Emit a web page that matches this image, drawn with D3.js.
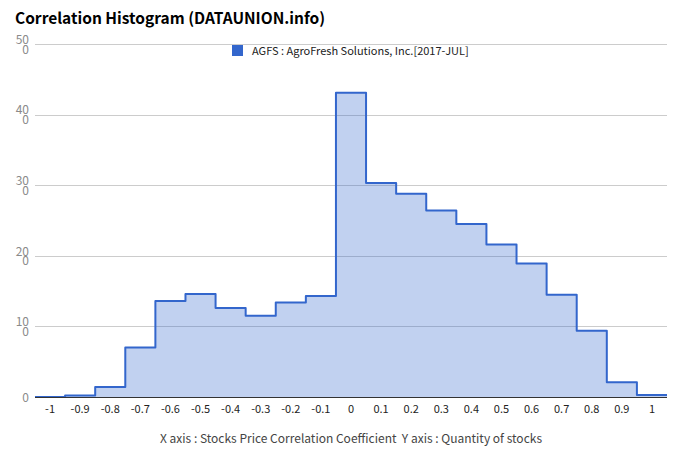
<!DOCTYPE html>
<html>
<head>
<meta charset="utf-8">
<script src="https://cdn.jsdelivr.net/npm/d3@7"></script>
<style>
  html, body { margin: 0; padding: 0; background: #fff; }
  svg { display: block; font-family: "Noto Sans CJK KR", "Noto Sans", sans-serif; }
  text { white-space: pre; }
</style>
</head>
<body>
<svg id="chart" width="680" height="462"></svg>
<script>
const binCenters = [-1, -0.9, -0.8, -0.7, -0.6, -0.5, -0.4, -0.3, -0.2, -0.1, 0, 0.1, 0.2, 0.3, 0.4, 0.5, 0.6, 0.7, 0.8, 0.9, 1];
const counts =     [0, 2, 14, 70, 136, 146, 126, 115, 134, 143, 431, 303, 288, 264, 245, 216, 189, 145, 94, 21, 3];
const xTickLabels = ["-1","-0.9","-0.8","-0.7","-0.6","-0.5","-0.4","-0.3","-0.2","-0.1","0","0.1","0.2","0.3","0.4","0.5","0.6","0.7","0.8","0.9","1"];
const yTicks = [0, 100, 200, 300, 400, 500];
const titleText = "Correlation Histogram (DATAUNION.info)";
const legendText = "AGFS : AgroFresh Solutions, Inc.[2017-JUL]";
const axisTitle = "X axis : Stocks Price Correlation Coefficient  Y axis : Quantity of stocks";

(function () {
const svg = d3.select("#chart");
const pLeft = 35, pRight = 667, pTop = 44, pBottom = 397;
const binW = 0.1;

const x = d3.scaleLinear().domain([-1.05, 1.05]).range([pLeft, pRight]);
const y = d3.scaleLinear().domain([0, 500]).range([pBottom, pTop]);

// gridlines
svg.append("g").selectAll("line").data(yTicks.filter(d => d > 0)).join("line")
  .attr("x1", pLeft).attr("x2", pRight)
  .attr("y1", d => Math.round(y(d)) + 0.5).attr("y2", d => Math.round(y(d)) + 0.5)
  .attr("stroke", "#cccccc").attr("stroke-width", 1);

// y labels (wrapped like original)
const yl = svg.append("g").selectAll("text").data(yTicks).join("text")
  .attr("x", 29).attr("text-anchor", "end")
  .attr("font-size", 12).attr("fill", "#8a8a8a");
yl.each(function(d) {
  const t = d3.select(this);
  const s = String(d);
  const yy = y(d);
  if (s.length > 2) {
    t.append("tspan").attr("x", 29).attr("y", yy - 0.3).text(s.slice(0, 2));
    t.append("tspan").attr("x", 29).attr("y", yy + 9.5).text(s.slice(2));
  } else {
    t.append("tspan").attr("x", 29).attr("y", yy + 4.5).text(s);
  }
});

// step data
const pts = binCenters.map((c, i) => ({ x: c - binW / 2, v: counts[i] }));
pts.push({ x: binCenters[binCenters.length - 1] + binW / 2, v: counts[counts.length - 1] });

const area = d3.area().curve(d3.curveStepAfter)
  .x(d => x(d.x)).y0(y(0)).y1(d => y(d.v));
const line = d3.line().curve(d3.curveStepAfter)
  .x(d => x(d.x)).y(d => y(d.v));

svg.append("path").datum(pts).attr("d", area)
  .attr("fill", "#3366cc").attr("fill-opacity", 0.3);
svg.append("path").datum(pts).attr("d", line)
  .attr("fill", "none").attr("stroke", "#3366cc").attr("stroke-width", 2)
  .attr("stroke-linejoin", "round");

// baseline
svg.append("line").attr("x1", pLeft).attr("x2", pRight)
  .attr("y1", pBottom + 0.5).attr("y2", pBottom + 0.5)
  .attr("stroke", "#333").attr("stroke-width", 1);

// x tick labels
svg.append("g").selectAll("text").data(binCenters).join("text")
  .attr("x", d => x(d)).attr("y", 413)
  .attr("text-anchor", "middle").attr("font-size", 11).attr("fill", "#222")
  .text((d, i) => xTickLabels[i]);

// title
svg.append("text").attr("x", 15).attr("y", 24)
  .attr("font-size", 15.5).attr("font-weight", "bold").attr("fill", "#000")
  .text(titleText);

// legend
svg.append("rect").attr("x", 232).attr("y", 45).attr("width", 11).attr("height", 11)
  .attr("fill", "#3366cc");
svg.append("text").attr("x", 252).attr("y", 54.5)
  .attr("font-size", 11).attr("fill", "#222").text(legendText);

// axis title
svg.append("text").attr("x", x(0)).attr("y", 443)
  .attr("text-anchor", "middle").attr("font-size", 12).attr("fill", "#444")
  .text(axisTitle);
})();
</script>
</body>
</html>
